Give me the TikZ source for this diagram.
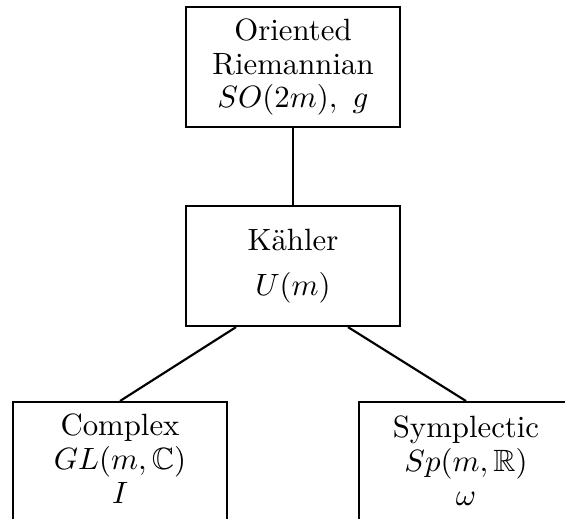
\documentclass[tikz,border=0pt]{standalone}
\usepackage{amssymb}
% drawing unit: one "pixel" of the layout grid
\newcommand\pxu{0.3247pt}
\tikzset{
  gbox/.style={draw, line width=0.7pt, rectangle, inner sep=0pt,
    minimum width=214*\pxu, minimum height=120*\pxu,
    align=center, font=\fontsize{10}{10.9}\selectfont},
  openbox/.style={draw, line width=0.7pt, rectangle, inner sep=0pt,
    minimum width=214*\pxu, minimum height=160*\pxu, anchor=north},
  boxtext/.style={inner sep=0pt, anchor=north, align=center,
    font=\fontsize{10}{10.9}\selectfont},
  link/.style={line width=0.7pt}
}
\begin{document}
\begin{tikzpicture}[x=\pxu, y=-\pxu]
  \useasboundingbox (0,0) rectangle (565,518);
  \clip (0,0) rectangle (565,518);
  % upper chain of structure groups
  \node[gbox] (ori) at (293,67) {Oriented\\Riemannian\\$SO(2m),\ g$};
  \node[gbox] (kah) at (293,266) {K\"ahler\\[3.7pt]$U(m)$};
  % the two lower boxes run past the page edge
  \node[openbox] (cbox) at (120,401) {};
  \node[openbox] (sbox) at (466,401) {};
  \node[boxtext] (ctext) at ([yshift=-12.6*\pxu]cbox.north) {Complex\\$GL(m,\mathbb{C})$\\$I$};
  \node[boxtext] (stext) at ([yshift=-14.6*\pxu]sbox.north) {Symplectic\\$Sp(m,\mathbb{R})$\\$\omega$};
  % connectors
  \draw[link] (ori) -- (kah);
  \draw[link] (kah.227.5) -- (cbox.north);
  \draw[link] (kah.312.5) -- (sbox.north);
\end{tikzpicture}
\end{document}
